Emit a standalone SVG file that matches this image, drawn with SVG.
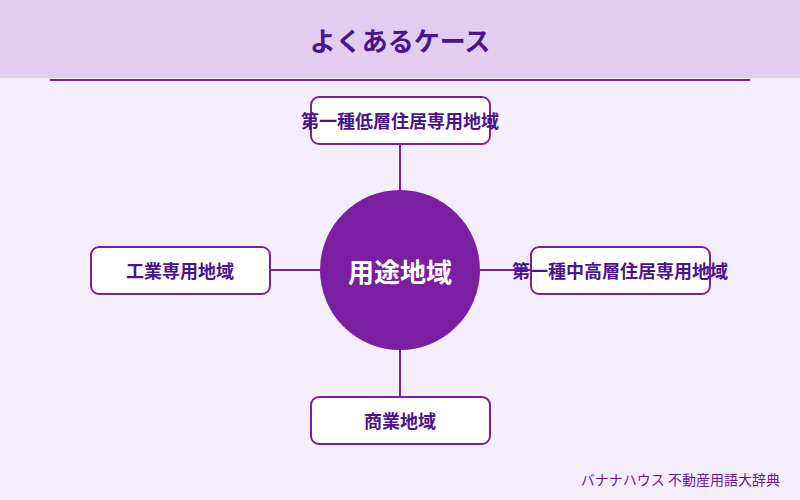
<svg xmlns="http://www.w3.org/2000/svg" width="800" height="500" viewBox="0 0 800 500">
<style>
.box{fill:#FFFFFF;stroke:#7B1FA2;stroke-width:2}
.lbl{font-family:"Noto Sans CJK JP","Noto Sans",sans-serif;font-size:18px;font-weight:bold;fill:#4A148C;text-anchor:middle;dominant-baseline:central}
.conn{stroke:#7B1FA2;stroke-width:2;fill:none}
</style>
<rect x="0" y="0" width="800" height="500" fill="#F4EEFC"/>
<rect x="0" y="0" width="800" height="78" fill="#E2CDF0"/>
<text x="400" y="39" font-family="'Noto Sans CJK JP','Noto Sans',sans-serif" font-size="26" font-weight="bold" fill="#4A148C" text-anchor="middle" dominant-baseline="central">よくあるケース</text>
<line x1="50" y1="80" x2="750" y2="80" stroke="#7B1FA2" stroke-width="2"/>
<g id="connectors">
<line class="conn" x1="400" y1="144" x2="400" y2="190"/>
<line class="conn" x1="270" y1="270" x2="320" y2="270"/>
<line class="conn" x1="480" y1="270" x2="530" y2="270"/>
<line class="conn" x1="400" y1="350" x2="400" y2="397"/>
</g>
<g id="center">
<circle cx="400" cy="270" r="80" fill="#7B1FA2"/>
<text x="400" y="270" font-family="'Noto Sans CJK JP','Noto Sans',sans-serif" font-size="26" font-weight="bold" fill="#FFFFFF" text-anchor="middle" dominant-baseline="central">用途地域</text>
</g>
<g id="n-top">
<rect class="box" x="311" y="97" width="179" height="47" rx="8"/>
<text class="lbl" x="400" y="120">第一種低層住居専用地域</text>
</g>
<g id="n-left">
<rect class="box" x="91" y="247" width="179" height="47" rx="8"/>
<text class="lbl" x="180" y="270">工業専用地域</text>
</g>
<g id="n-right">
<rect class="box" x="531" y="247" width="179" height="47" rx="8"/>
<text class="lbl" x="620" y="270">第一種中高層住居専用地域</text>
</g>
<g id="n-bottom">
<rect class="box" x="311" y="397" width="179" height="47" rx="8"/>
<text class="lbl" x="400" y="420">商業地域</text>
</g>
<text x="780" y="479" font-family="'Noto Sans CJK JP','Noto Sans',sans-serif" font-size="14" fill="#6A1B9A" text-anchor="end" dominant-baseline="central">バナナハウス 不動産用語大辞典</text>
</svg>
